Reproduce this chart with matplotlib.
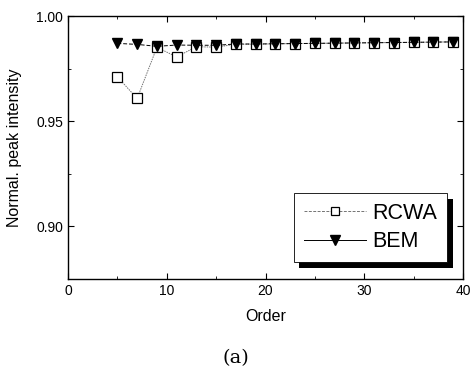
import numpy as np
import matplotlib.pyplot as plt
from matplotlib.ticker import MultipleLocator
import matplotlib.patheffects as pe

plt.rcParams['font.family'] = ['Liberation Sans', 'DejaVu Sans']

order = [5, 7, 9, 11, 13, 15, 17, 19, 21, 23, 25, 27, 29, 31, 33, 35, 37, 39]
rcwa = [0.9711, 0.9608, 0.9851, 0.9806, 0.9854, 0.9852, 0.9866, 0.9866, 0.9868,
        0.9869, 0.9870, 0.9871, 0.9872, 0.9873, 0.9874, 0.9875, 0.9876, 0.9877]
bem = [0.9870, 0.9865, 0.9856, 0.9862, 0.9861, 0.9861, 0.9867, 0.9867, 0.9868,
       0.9869, 0.9870, 0.9871, 0.9872, 0.9873, 0.9874, 0.9875, 0.9876, 0.9877]

fig = plt.figure(figsize=(4.71, 3.69), dpi=100)
ax = fig.add_axes([0.1444, 0.2439, 0.8386, 0.7127])

ax.plot(order, rcwa, color="0.45", lw=0.7, ls=(0, (1.5, 1)), marker="s", ms=6.5,
        mfc="white", mec="black", mew=0.9, label="RCWA")
ax.plot(order, bem, color="black", lw=0.7, ls=(0, (4, 2)), marker="v", ms=7.5,
        mfc="black", mec="black", label="BEM")

ax.set_xlim(0, 40)
ax.set_ylim(0.875, 1.0)
ax.xaxis.set_major_locator(MultipleLocator(10))
ax.xaxis.set_minor_locator(MultipleLocator(5))
ax.yaxis.set_minor_locator(MultipleLocator(0.025))
ax.set_yticks([0.90, 0.95, 1.00])
ax.set_yticklabels(["0.90", "0.95", "1.00"])
ax.tick_params(which="both", direction="in", top=True, right=True, labelsize=10)
ax.tick_params(which="major", length=4.5)
ax.tick_params(which="minor", length=2)
for s in ax.spines.values():
    s.set_linewidth(1.0)

ax.set_xlabel("Order", fontsize=11.5, labelpad=8)
ax.set_ylabel("Normal. peak intensity", fontsize=11.5, labelpad=10)

# legend with drop shadow
leg_handles = [
    plt.Line2D([], [], color="0.45", lw=0.7, ls=(0, (3, 1.5)), marker="s", ms=6,
               mfc="white", mec="black", mew=0.9),
    plt.Line2D([], [], color="black", lw=0.7, marker="v", ms=7, mfc="black"),
]
leg = ax.legend(leg_handles, ["RCWA", "BEM"], loc="lower right",
                bbox_to_anchor=(0.9595, 0.0646), borderaxespad=0,
                fontsize=15.5, frameon=True, fancybox=False,
                edgecolor="black", handlelength=2.9, handletextpad=0.3,
                borderpad=0.45, labelspacing=0.35)
frame = leg.get_frame()
frame.set_linewidth(0.6)
frame.set_alpha(1.0)
frame.set_path_effects([pe.SimplePatchShadow(offset=(4, -4), shadow_rgbFace="black",
                                             alpha=1.0), pe.Normal()])

fig.text(0.5, 0.03, "(a)", ha="center", va="center", fontsize=14,
         family="DejaVu Serif")

fig.savefig("out.png", dpi=100, facecolor="white")
